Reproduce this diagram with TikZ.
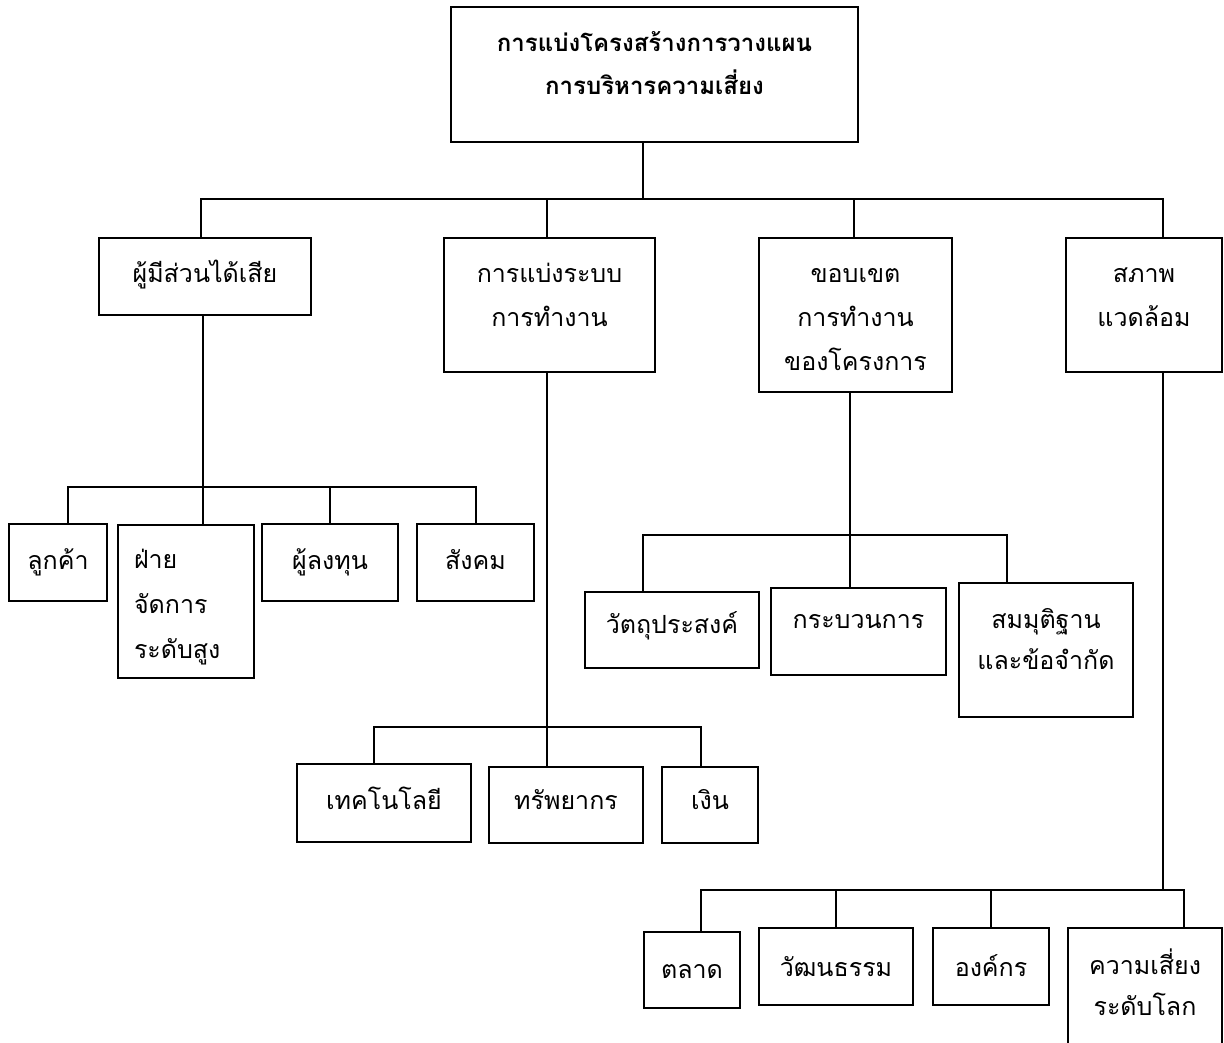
\documentclass[tikz,border=0pt]{standalone}
\usepackage{fontspec}
\newfontfamily\thai[Script=Thai]{Loma}
\usetikzlibrary{calc}
\tikzset{
  box/.style={draw, line width=1.7pt, inner sep=0pt, outer sep=0pt, anchor=north west},
  txt/.style={font=\thai\fontsize{25}{44}\selectfont, inner sep=0pt, outer sep=0pt, anchor=base, align=center, text width=#1},
  txt/.default=200pt,
  conn/.style={line width=1.7pt, line cap=rect},
}
\newcommand\mkbox[5]{\node[box, minimum width={(#4-#2)*1pt}, minimum height={(#5-#3)*1pt}] (#1) at (#2,#3) {};}
\begin{document}
\begin{tikzpicture}[x=1pt,y=-1pt]
\useasboundingbox (0,0) rectangle (1224,1043);
\fill[white] (0,0) rectangle (1224,1043);
% boxes
\mkbox{T}{451}{7}{858}{142}
\mkbox{A}{99}{238}{311}{315}
\mkbox{B}{444}{238}{655}{372}
\mkbox{C}{759}{238}{952}{392}
\mkbox{D}{1066}{238}{1222}{372}
\mkbox{A1}{9}{524}{107}{601}
\mkbox{A2}{118}{525}{254}{678}
\mkbox{A3}{262}{524}{398}{601}
\mkbox{A4}{417}{524}{534}{601}
\mkbox{C1}{585}{592}{759}{668}
\mkbox{C2}{771}{588}{946}{675}
\mkbox{C3}{959}{583}{1133}{717}
\mkbox{B1}{297}{764}{471}{842}
\mkbox{B2}{489}{767}{643}{843}
\mkbox{B3}{662}{767}{758}{843}
\mkbox{D1}{644}{932}{740}{1008}
\mkbox{D2}{759}{928}{913}{1005}
\mkbox{D3}{933}{928}{1049}{1005}
\mkbox{D4}{1068}{928}{1222}{1060}
% texts
\node[txt=400pt, font=\thai\fontsize{24}{43}\selectfont] (Tt) at (654.5,52) {\bfseries การแบ่งโครงสร้างการวางแผน\\การบริหารความเสี่ยง};
\node[txt] (At) at (205,283) {ผู้มีส่วนได้เสีย};
\node[txt] (Bt) at (549.5,283) {การแบ่งระบบ\\การทำงาน};
\node[txt] (Ct) at (855.5,283) {ขอบเขต\\การทำงาน\\ของโครงการ};
\node[txt=150pt] (Dt) at (1144,283) {สภาพ\\แวดล้อม};
\node[txt=95pt] (A1t) at (58,569) {ลูกค้า};
\node[txt=110pt, align=left, anchor=base west, font=\thai\fontsize{25}{45}\selectfont] (A2t) at (134,568) {ฝ่าย\\จัดการ\\ระดับสูง};
\node[txt=130pt] (A3t) at (330,569) {ผู้ลงทุน};
\node[txt=115pt] (A4t) at (475.5,569) {สังคม};
\node[txt=170pt] (C1t) at (672,633) {วัตถุประสงค์};
\node[txt=170pt] (C2t) at (858.5,628) {กระบวนการ};
\node[txt=170pt, font=\thai\fontsize{25}{41}\selectfont] (C3t) at (1046,628) {สมมุติฐาน\\และข้อจำกัด};
\node[txt=170pt] (B1t) at (384,809) {เทคโนโลยี};
\node[txt=150pt] (B2t) at (566,809) {ทรัพยากร};
\node[txt=95pt] (B3t) at (710,809) {เงิน};
\node[txt=95pt] (D1t) at (692,978) {ตลาด};
\node[txt=150pt] (D2t) at (836,976) {วัฒนธรรม};
\node[txt=115pt] (D3t) at (991,976) {องค์กร};
\node[txt=150pt, font=\thai\fontsize{25}{41}\selectfont] (D4t) at (1145,974) {ความเสี่ยง\\ระดับโลก};
% bus coordinates
\coordinate (sT) at (643,142);
\coordinate (b1L) at (201,199); \coordinate (b1R) at (1163,199);
\coordinate (b1B) at (547,199); \coordinate (b1C) at (854,199);
\coordinate (sA) at (203,315); \coordinate (sB) at (547,372); \coordinate (sC) at (850,392); \coordinate (sD) at (1163,372);
\coordinate (b2L) at (68,487); \coordinate (b2M) at (330,487); \coordinate (b2R) at (476,487);
\coordinate (b3L) at (643,535); \coordinate (b3R) at (1007,535);
\coordinate (b4L) at (374,727); \coordinate (b4R) at (701,727);
\coordinate (b5L) at (701,890); \coordinate (b5a) at (836,890); \coordinate (b5b) at (991,890); \coordinate (b5R) at (1184,890);
% connectors
\draw[conn] (sT) -- (sT |- b1L);
\draw[conn] (b1L) -- (b1R);
\draw[conn] (b1L) -- (b1L |- A.north);
\draw[conn] (b1B) -- (b1B |- B.north);
\draw[conn] (b1C) -- (b1C |- C.north);
\draw[conn] (b1R) -- (b1R |- D.north);
\draw[conn] (sA) -- (sA |- A2.north);
\draw[conn] (sB) -- (sB |- B2.north);
\draw[conn] (sC) -- (sC |- C2.north);
\draw[conn] (sD) -- (sD |- b5L);
\draw[conn] (b2L) -- (b2R);
\draw[conn] (b2L) -- (b2L |- A1.north);
\draw[conn] (b2M) -- (b2M |- A3.north);
\draw[conn] (b2R) -- (b2R |- A4.north);
\draw[conn] (b3L) -- (b3R);
\draw[conn] (b3L) -- (b3L |- C1.north);
\draw[conn] (b3R) -- (b3R |- C3.north);
\draw[conn] (b4L) -- (b4R);
\draw[conn] (b4L) -- (b4L |- B1.north);
\draw[conn] (b4R) -- (b4R |- B3.north);
\draw[conn] (b5L) -- (b5R);
\draw[conn] (b5L) -- (b5L |- D1.north);
\draw[conn] (b5a) -- (b5a |- D2.north);
\draw[conn] (b5b) -- (b5b |- D3.north);
\draw[conn] (b5R) -- (b5R |- D4.north);
\end{tikzpicture}
\end{document}
